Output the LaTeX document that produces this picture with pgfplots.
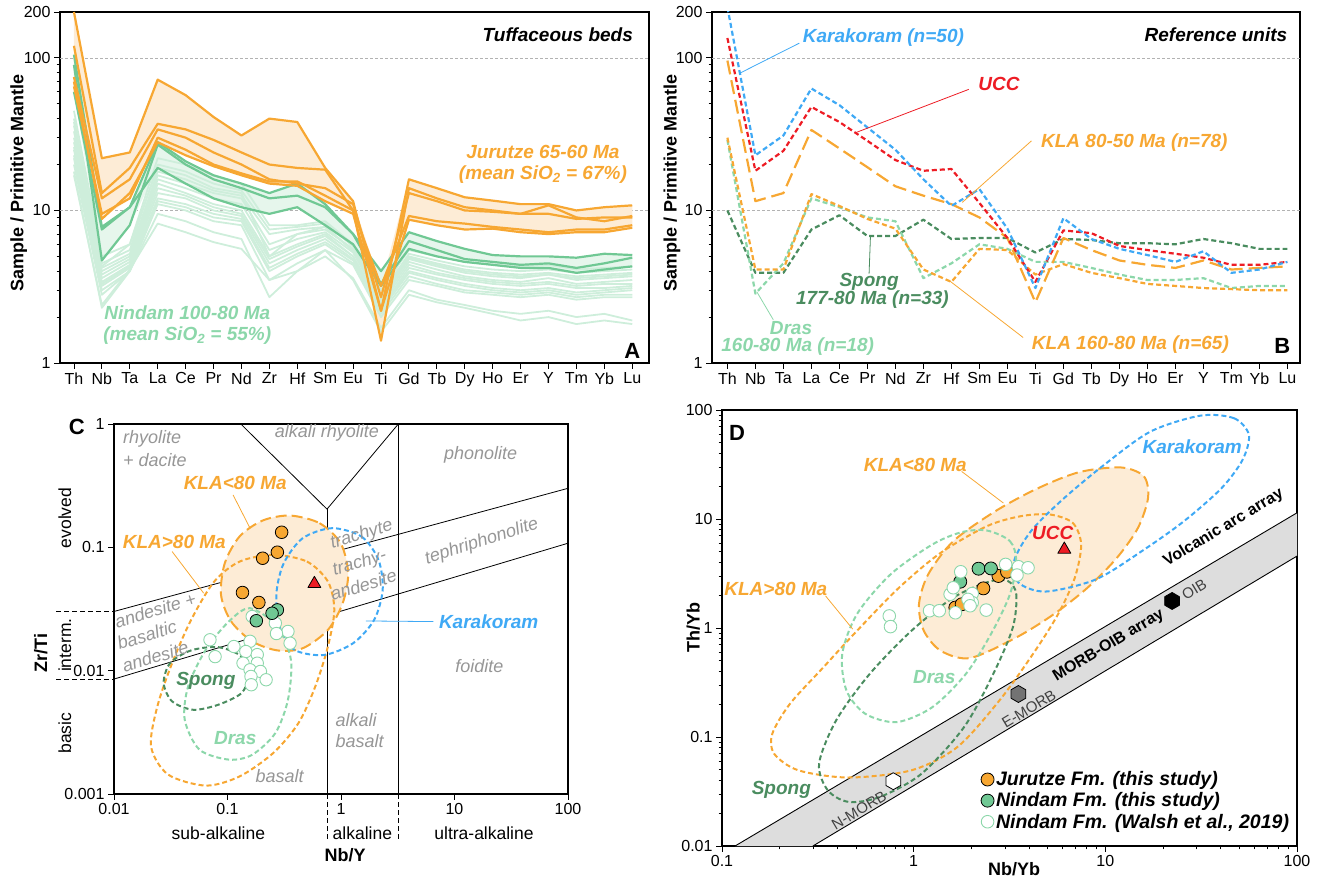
\documentclass[border=0pt]{standalone}
\usepackage{fontspec}
\setmainfont{Liberation Sans}
\usepackage{pgfplots}
\pgfplotsset{compat=1.18}
\usepackage{pgfplotstable}

\definecolor{cOr}{RGB}{247,167,50}
\definecolor{cOrF}{RGB}{253,236,214}
\definecolor{cGr}{RGB}{112,200,148}
\definecolor{cGrL}{RGB}{206,238,219}
\definecolor{cGrF}{RGB}{230,246,236}
\definecolor{cGrT}{RGB}{140,215,170}
\definecolor{cBl}{RGB}{63,169,245}
\definecolor{cRd}{RGB}{237,28,36}
\definecolor{cDG}{RGB}{74,140,95}
\definecolor{cTx}{RGB}{150,150,150}
\definecolor{cBand}{RGB}{221,221,221}

\newcommand\fT{\fontsize{16bp}{19bp}\selectfont}
\newcommand\fL{\fontsize{18bp}{21bp}\selectfont\bfseries}
\newcommand\fN{\fontsize{19bp}{21bp}\selectfont\bfseries\itshape}
\newcommand\fG{\fontsize{18bp}{21bp}\selectfont\itshape}
\newcommand\fR{\fontsize{17.5bp}{20bp}\selectfont}
\newcommand\fP{\fontsize{22bp}{24bp}\selectfont\bfseries}
\newcommand\fM{\fontsize{16bp}{19bp}\selectfont\bfseries}
\newcommand\fS{\fontsize{15bp}{18bp}\selectfont}

\pgfdeclareplotmark{hexagon}{%
  \pgfpathmoveto{\pgfpointpolar{90}{\pgfplotmarksize}}%
  \pgfpathlineto{\pgfpointpolar{150}{\pgfplotmarksize}}%
  \pgfpathlineto{\pgfpointpolar{210}{\pgfplotmarksize}}%
  \pgfpathlineto{\pgfpointpolar{270}{\pgfplotmarksize}}%
  \pgfpathlineto{\pgfpointpolar{330}{\pgfplotmarksize}}%
  \pgfpathlineto{\pgfpointpolar{30}{\pgfplotmarksize}}%
  \pgfpathclose
  \pgfusepathqfillstroke
}

\pgfplotsset{
  base/.style={scale only axis, axis line style={line width=1.1bp},
    tick style={black, line width=0.9bp}, major tick length=6bp, minor tick length=3.5bp,
    tick align=outside, tick pos=left, tick label style={font=\fT},
    /pgf/number format/assume math mode=true, label style={font=\fL},
    log ticks with fixed point, /pgf/number format/precision=3,
    every axis plot/.append style={line join=round}},
  sd/.style={dash pattern=on 5bp off 3bp, line width=2bp},
  ld/.style={dash pattern=on 11bp off 5bp, line width=2bp},
}

\pgfplotstableread{
i O1 O2 O3 O4 O5 G1 G2 G3 W1 W2 W3 W4 W5 W6 W7 W8 W9 W10 W11 W12 W13 W14
0 200 120 75 65 70 105 90 60 45 40 36 33 30 28 26 25 23 22 20 18 17 38
1 22 13 12 9.5 8.8 7.8 4.7 7.5 5.0 4.5 4.2 4.0 3.8 3.6 3.4 3.3 3.2 3.0 2.8 2.3 2.4 4.3
2 24 19 16 12 13 10.5 8 10.5 6.0 5.5 5.2 5.0 4.8 4.6 4.4 4.3 4.2 4.0 4.0 4.0 4.1 6.0
3 72 37 34 30 28 28 27 19 22 20 18 17 16 15 14 13 12 11.5 11 9.5 8.2 19
4 57 34 30 25 23 21 20 15 20 18 16 15 14 13 12.5 12 11 10.5 10 8.5 7.2 17
5 41 29 24 20 19.5 17 16 12 17 15 13.5 13 12 11 10.5 10 9.5 9 8.5 7.2 6.2 14
6 31 24 20 17.5 17 15 14 10.5 15 13.5 12.5 12 11 10 9.5 9.2 8.8 8.5 8 6.5 5.6 13
7 40 20 16 15.5 15 13 12 9.5 8.0 7.5 7.0 6.0 5.5 5.0 4.8 4.5 4.2 4.0 3.5 2.7 3.5 5.0
8 38 19 15 15.5 14.5 15 12.5 10.5 8.0 7.8 7.5 7.0 6.5 6.0 5.8 5.5 5.2 5.0 4.5 4.0 4.0 7.0
9 19 18.5 14 12.5 11.5 11 10.5 8 8.5 8.2 7.8 7.5 7.2 7.0 6.8 6.5 6.2 6.0 5.5 5.0 5.5 7.8
10 11.5 10 11 10 9.5 7 7 6 6.0 5.8 5.5 5.6 5.3 5.0 5.0 4.8 4.7 4.5 4.4 3.6 3.5 5.4
11 2.2 1.4 2.7 3.2 2.2 4 3.3 3.2 3.0 2.8 2.7 2.6 2.5 2.4 2.3 2.3 2.2 2.1 2.0 1.7 1.6 2.6
12 16 14 13 9.2 8.7 7.2 6.3 5.6 5.5 5.2 5.0 4.8 4.6 4.4 4.2 4.0 3.9 3.7 3.5 3.0 2.8 4.9
13 14 12 11.5 8.5 8 6.3 5.5 5 5.0 4.7 4.5 4.3 4.1 3.9 3.8 3.6 3.5 3.3 3.2 2.6 2.5 4.4
14 12.2 10.5 10 8.2 7.5 5.6 4.8 4.6 4.6 4.3 4.1 3.9 3.7 3.6 3.5 3.3 3.2 3.0 2.9 2.4 2.3 4.0
15 11.6 10 9.8 7.8 7.6 5.1 4.6 4.4 4.4 4.1 3.9 3.7 3.5 3.4 3.3 3.1 3.0 2.9 2.8 2.2 2.1 3.8
16 11 9.5 9.5 7.5 7.2 5 4.4 4.2 4.3 4.0 3.8 3.6 3.4 3.3 3.2 3.0 2.9 2.8 2.7 2.1 1.9 3.7
17 11 10.8 9.5 7.2 7 5 4.5 4.2 4.4 4.1 3.9 3.8 3.6 3.4 3.3 3.1 3.0 2.9 2.8 2.2 2.0 3.8
18 10 9 8.8 7.5 7.2 4.9 4.2 3.9 4.1 3.9 3.7 3.5 3.3 3.2 3.1 2.9 2.8 2.7 2.6 2.0 1.8 3.6
19 10.5 8.5 9 7.5 7.2 5.2 4.5 4.1 4.2 4.0 3.8 3.6 3.4 3.3 3.1 3.0 2.9 2.8 2.7 2.1 1.9 3.7
20 10.8 9.2 9 8 7.7 5.1 4.9 4.3 4.3 4.1 3.9 3.7 3.5 3.3 3.2 3.1 3.0 2.8 2.7 1.9 1.8 3.8
}\tabA

\pgfplotstableread{
i K U L1 L2 D S
0 215 135 96 30 29 10
1 23 18.2 11.5 4.1 2.85 3.9
2 31 24.6 13 4.1 4.5 3.9
3 63 47.7 33.7 12.8 12 7.5
4 49 38 25.5 10.7 10.5 9.3
5 35 28.6 19.2 8.8 9 6.8
6 25 21.4 14.4 7.6 8.5 6.8
7 16 18.2 12.5 4.1 3.6 8.7
8 10.7 18.7 11 3.4 4.5 6.5
9 13.8 11.2 9 5.6 6 6.6
10 7.6 6.6 6.6 5.5 5.6 6.6
11 3.1 3.4 2.5 3.8 4.6 5.3
12 8.9 7.4 6.6 4.45 4.6 6.5
13 6.5 7.1 5.5 3.9 4.2 6.4
14 5.6 5.85 4.7 3.6 3.8 6.1
15 5.1 5.5 4.4 3.3 3.5 6.1
16 4.6 5.2 4.2 3.2 3.5 6.0
17 5.4 4.9 4.7 3.1 3.6 6.5
18 3.9 4.4 4.1 3.05 3.1 6.1
19 4.1 4.4 4.2 3.0 3.2 5.6
20 4.6 4.6 4.3 3.0 3.2 5.6
}\tabB

\begin{document}
\begin{tikzpicture}
\useasboundingbox (0,0) rectangle (1318bp,879bp);

%%%%%%%%%%%%%%%%%%%% A
\begin{axis}[base, at={(60bp,516bp)}, anchor=south west, width=589bp, height=351bp,
  ymode=log, ymin=1, ymax=200, xmin=-0.5, xmax=20.6,
  xtick={0,...,20}, xticklabels={Th,Nb,Ta,La,Ce,Pr,Nd,Zr,Hf,Sm,Eu,Ti,Gd,Tb,Dy,Ho,Er,Y,Tm,Yb,Lu},
  extra y ticks={200}, extra y tick labels={200},
  ylabel={Sample / Primitive Mantle}, ylabel style={at={(axis description cs:-0.07,0.513)}, anchor=center}]
\addplot[gray!60, dash pattern=on 3bp off 2bp, line width=0.6bp, forget plot] coordinates {(-0.5,10) (20.6,10)};
\addplot[gray!60, dash pattern=on 3bp off 2bp, line width=0.6bp, forget plot] coordinates {(-0.5,100) (20.6,100)};
\addplot[fill=cOrF, draw=none, forget plot] coordinates {(0,200) (1,22) (2,24) (3,72) (4,57) (5,41) (6,31) (7,40) (8,38) (9,19) (10,11.5) (11,3.2) (12,16) (13,14) (14,12.2) (15,11.6) (16,11) (17,11) (18,10) (19,10.5) (20,10.8) (20,7.7) (19,7.2) (18,7.2) (17,7) (16,7.2) (15,7.6) (14,7.5) (13,8) (12,8.7) (11,1.4) (10,9.5) (9,11.5) (8,14.5) (7,15) (6,17) (5,19.5) (4,23) (3,28) (2,12) (1,8.8) (0,65)} -- cycle;
\addplot[fill=cGrF, draw=none, forget plot] coordinates {(0,105) (1,7.8) (2,10.5) (3,28) (4,21) (5,17) (6,15) (7,13) (8,15) (9,11) (10,7) (11,4) (12,7.2) (13,6.3) (14,5.6) (15,5.1) (16,5) (17,5) (18,4.9) (19,5.2) (20,5.1) (20,4.3) (19,4.1) (18,3.9) (17,4.2) (16,4.2) (15,4.4) (14,4.6) (13,5) (12,5.6) (11,3.2) (10,6) (9,8) (8,10.5) (7,9.5) (6,10.5) (5,12) (4,15) (3,19) (2,8) (1,4.7) (0,60)} -- cycle;
\pgfplotsinvokeforeach{1,...,14}{\addplot[cGrL, line width=1.8bp, forget plot] table[x=i,y=W#1]{\tabA};}
\addplot[cGr, line width=2.2bp] table[x=i,y=G1]{\tabA};
\addplot[cGr, line width=2.2bp] table[x=i,y=G2]{\tabA};
\addplot[cGr, line width=2.2bp] table[x=i,y=G3]{\tabA};
\addplot[cOr, line width=2.2bp] table[x=i,y=O1]{\tabA};
\addplot[cOr, line width=2.2bp] table[x=i,y=O2]{\tabA};
\addplot[cOr, line width=2.2bp] table[x=i,y=O3]{\tabA};
\addplot[cOr, line width=2.2bp] table[x=i,y=O4]{\tabA};
\addplot[cOr, line width=2.2bp] table[x=i,y=O5]{\tabA};
\node[font=\fN, anchor=east] at (axis cs:20.15,142) {Tuffaceous beds};
\node[font=\fN, text=cOr, align=center] at (axis cs:16.8,20.1) {Jurutze 65-60 Ma\\(mean SiO\textsubscript{2} = 67\%)};
\node[font=\fN, text=cGrT, align=center] at (axis cs:4.06,1.77) {Nindam 100-80 Ma\\(mean SiO\textsubscript{2} = 55\%)};
\node[font=\fP] at (axis cs:20.0,1.2) {A};
\end{axis}

%%%%%%%%%%%%%%%%%%%% B
\begin{axis}[base, at={(712bp,516bp)}, anchor=south west, width=588bp, height=351bp,
  ymode=log, ymin=1, ymax=200, xmin=-0.55, xmax=20.45,
  xtick={0,...,20}, xticklabels={Th,Nb,Ta,La,Ce,Pr,Nd,Zr,Hf,Sm,Eu,Ti,Gd,Tb,Dy,Ho,Er,Y,Tm,Yb,Lu},
  extra y ticks={200}, extra y tick labels={200},
  ylabel={Sample / Primitive Mantle}, ylabel style={at={(axis description cs:-0.068,0.513)}, anchor=center}]
\addplot[gray!60, dash pattern=on 3bp off 2bp, line width=0.6bp, forget plot] coordinates {(-0.55,10) (20.45,10)};
\addplot[gray!60, dash pattern=on 3bp off 2bp, line width=0.6bp, forget plot] coordinates {(-0.55,100) (20.45,100)};
\addplot[cDG, sd, line width=2.2bp] table[x=i,y=S]{\tabB};
\addplot[cGrT, sd, line width=2.2bp] table[x=i,y=D]{\tabB};
\addplot[cOr, sd, line width=2.2bp] table[x=i,y=L2]{\tabB};
\addplot[cOr, dash pattern=on 14bp off 6bp, line width=2.2bp] table[x=i,y=L1]{\tabB};
\addplot[cRd, sd, line width=2.2bp] table[x=i,y=U]{\tabB};
\addplot[cBl, sd, line width=2.2bp] table[x=i,y=K]{\tabB};
\addplot[cBl, line width=0.8bp] coordinates {(2.57,125) (0.48,80)};
\addplot[cRd, line width=0.8bp] coordinates {(8.62,62.2) (4.59,32.4)};
\addplot[cOr, line width=0.8bp] coordinates {(10.86,28.6) (8.39,11.3)};
\addplot[cDG, line width=0.8bp] coordinates {(5.06,3.86) (5.11,6.8)};
\addplot[cGrT, line width=0.8bp] coordinates {(1.64,1.92) (1.05,2.93)};
\addplot[cOr, line width=0.8bp] coordinates {(10.56,1.47) (7.95,3.44)};
\node[font=\fN, anchor=east] at (axis cs:20.12,142) {Reference units};
\node[font=\fN, text=cBl, anchor=west] at (axis cs:2.57,135) {Karakoram (n=50)};
\node[font=\fN, text=cRd, anchor=west] at (axis cs:8.84,67) {UCC};
\node[font=\fN, text=cOr, anchor=west] at (axis cs:11.08,27.9) {KLA 80-50 Ma (n=78)};
\node[font=\fN, text=cDG] at (axis cs:5.06,3.41) {Spong};
\node[font=\fN, text=cDG] at (axis cs:5.18,2.59) {177-80 Ma (n=33)};
\node[font=\fN, text=cGrT] at (axis cs:2.27,1.69) {Dras};
\node[font=\fN, text=cGrT] at (axis cs:2.51,1.28) {160-80 Ma (n=18)};
\node[font=\fN, text=cOr, anchor=west] at (axis cs:10.75,1.32) {KLA 160-80 Ma (n=65)};
\node[font=\fP] at (axis cs:19.82,1.3) {B};
\end{axis}

%%%%%%%%%%%%%%%%%%%% C
\begin{axis}[base, at={(114bp,85bp)}, anchor=south west, width=454bp, height=370bp,
  xmode=log, ymode=log, xmin=0.01, xmax=100, ymin=0.001, ymax=1,
  minor tick length=0pt, clip=false,
  xlabel={Nb/Y}, xlabel style={at={(axis description cs:0.509,-0.165)}, anchor=center},
  ylabel={Zr/Ti}, ylabel style={at={(axis description cs:-0.161,0.381)}, anchor=center}]
\addplot[black, line width=0.8bp] coordinates {(0.131,1) (0.753,0.204) (3.2,1)};
\addplot[black, line width=0.8bp] coordinates {(0.753,0.204) (0.753,0.001)};
\addplot[black, line width=0.8bp] coordinates {(3.2,1) (3.2,0.001)};
\addplot[black, line width=0.8bp] coordinates {(0.01,0.0302) (100,0.301)};
\addplot[black, line width=0.8bp] coordinates {(0.01,0.00855) (100,0.108)};
\addplot[black, line width=0.8bp, dash pattern=on 5bp off 3bp] coordinates {(0.0031,0.0302) (0.01,0.0302)};
\addplot[black, line width=0.8bp, dash pattern=on 5bp off 3bp] coordinates {(0.0031,0.00855) (0.01,0.00855)};
\addplot[black, line width=0.8bp, dash pattern=on 5bp off 3bp] coordinates {(0.753,0.001) (0.753,0.00041)};
\addplot[black, line width=0.8bp, dash pattern=on 5bp off 3bp] coordinates {(3.2,0.001) (3.2,0.00041)};
\addplot[cOr, ld, fill=cOrF, smooth cycle] coordinates {(0.356,0.181) (0.647,0.157) (0.993,0.108) (1.157,0.0617) (1.035,0.0353) (0.767,0.0214) (0.460,0.0152) (0.275,0.0146) (0.165,0.0173) (0.1076,0.0251) (0.0877,0.0412) (0.0946,0.0743) (0.1276,0.1223) (0.204,0.165)};
\addplot[cOr, sd, smooth cycle] coordinates {(0.253,0.0869) (0.501,0.0767) (0.767,0.0528) (0.873,0.0311) (0.767,0.0157) (0.594,0.00745) (0.422,0.00376) (0.253,0.00215) (0.128,0.00139) (0.0644,0.00117) (0.0299,0.00144) (0.0212,0.00243) (0.0241,0.00513) (0.0325,0.0115) (0.0478,0.0258) (0.0764,0.0528) (0.128,0.0767)};
\addplot[cBl, sd, smooth cycle] coordinates {(0.835,0.143) (1.52,0.122) (2.14,0.0791) (2.33,0.0452) (1.96,0.0258) (1.28,0.0167) (0.705,0.0134) (0.387,0.0148) (0.287,0.0228) (0.270,0.0425) (0.313,0.0743) (0.460,0.1186)};
\addplot[cDG, sd, smooth cycle] coordinates {(0.0832,0.0155) (0.133,0.0130) (0.151,0.00898) (0.133,0.00658) (0.0832,0.0053) (0.0499,0.00482) (0.0325,0.00564) (0.0274,0.00793) (0.0312,0.0115) (0.0478,0.0146)};
\addplot[cGrT, sd, smooth cycle] coordinates {(0.158,0.0321) (0.275,0.0228) (0.362,0.01225) (0.341,0.00581) (0.264,0.00312) (0.165,0.00208) (0.103,0.0019) (0.0566,0.00229) (0.042,0.004) (0.045,0.00745) (0.0644,0.0148) (0.103,0.0251)};
\addplot[cOr, line width=0.8bp] coordinates {(0.112,0.266) (0.158,0.143)};
\addplot[cOr, line width=0.8bp] coordinates {(0.0325,0.0925) (0.0617,0.0425)};
\addplot[cBl, line width=0.8bp] coordinates {(6.5,0.025) (1.66,0.0253)};
\addplot[only marks, mark=*, mark size=6.2bp, mark options={fill=white, draw=cGrT, line width=0.9bp}] coordinates {(0.165,0.0275) (0.264,0.0243) (0.341,0.0208) (0.356,0.0167) (0.0701,0.0178) (0.0778,0.0130) (0.114,0.0157) (0.158,0.0173) (0.145,0.0143) (0.183,0.0135) (0.137,0.0115) (0.183,0.0115) (0.158,0.01017) (0.195,0.00986) (0.161,0.00898) (0.219,0.00844) (0.162,0.00769) (0.27,0.02)};
\addplot[only marks, mark=*, mark size=6.3bp, mark options={fill=cGr, draw=black, line width=0.8bp}] coordinates {(0.275,0.0311) (0.247,0.0292) (0.1795,0.0254)};
\addplot[only marks, mark=*, mark size=6.3bp, mark options={fill=cOr, draw=black, line width=0.8bp}] coordinates {(0.300,0.1325) (0.275,0.0913) (0.204,0.0816) (0.1355,0.0430) (0.189,0.0357)};
\addplot[only marks, mark=triangle*, mark size=7.5bp, mark options={fill=cRd, draw=black, line width=0.8bp}] coordinates {(0.583,0.0506)};
\node[font=\fG, text=cTx, anchor=west] at (axis cs:0.0112,0.765) {rhyolite};
\node[font=\fG, text=cTx, anchor=west] at (axis cs:0.0112,0.51) {+ dacite};
\node[font=\fG, text=cTx] at (axis cs:0.753,0.84) {alkali rhyolite};
\node[font=\fG, text=cTx] at (axis cs:17,0.56) {phonolite};
\node[font=\fG, text=cTx, rotate=17] at (axis cs:1.52,0.126) {trachyte};
\node[font=\fG, text=cTx, rotate=17] at (axis cs:1.46,0.074) {trachy-};
\node[font=\fG, text=cTx, rotate=17] at (axis cs:1.58,0.0497) {andesite};
\node[font=\fG, text=cTx, rotate=18] at (axis cs:17.4,0.111) {tephriphonolite};
\node[font=\fG, text=cTx, rotate=17] at (axis cs:0.0231,0.031) {andesite +};
\node[font=\fG, text=cTx, rotate=17] at (axis cs:0.0195,0.0195) {basaltic};
\node[font=\fG, text=cTx, rotate=17] at (axis cs:0.0231,0.013) {andesite};
\node[font=\fG, text=cTx] at (axis cs:16.6,0.0108) {foidite};
\node[font=\fG, text=cTx, anchor=west] at (axis cs:0.835,0.004) {alkali};
\node[font=\fG, text=cTx, anchor=west] at (axis cs:0.835,0.00267) {basalt};
\node[font=\fG, text=cTx] at (axis cs:0.288,0.00139) {basalt};
\node[font=\fN, text=cOr] at (axis cs:0.117,0.335) {KLA<80 Ma};
\node[font=\fN, text=cOr] at (axis cs:0.034,0.111) {KLA>80 Ma};
\node[font=\fN, text=cBl] at (axis cs:20,0.025) {Karakoram};
\node[font=\fN, text=cDG] at (axis cs:0.0644,0.0082) {Spong};
\node[font=\fN, text=cGrT] at (axis cs:0.117,0.00284) {Dras};
\node[font=\fP] at (axis cs:0.0047,0.946) {C};
\node[font=\fR, rotate=90] at (axis cs:0.0037,0.173) {evolved};
\node[font=\fR, rotate=90] at (axis cs:0.0037,0.0161) {interm.};
\node[font=\fR, rotate=90] at (axis cs:0.0037,0.00312) {basic};
\node[font=\fR] at (axis description cs:0.23,-0.105) {sub-alkaline};
\node[font=\fR] at (axis description cs:0.547,-0.105) {alkaline};
\node[font=\fR] at (axis description cs:0.815,-0.105) {ultra-alkaline};
\end{axis}

%%%%%%%%%%%%%%%%%%%% D
\begin{axis}[base, at={(722bp,33bp)}, anchor=south west, width=575bp, height=436bp,
  xmode=log, ymode=log, xmin=0.1, xmax=100, ymin=0.01, ymax=100, clip=false,
  xlabel={Nb/Yb}, xlabel style={at={(axis description cs:0.508,-0.052)}, anchor=center},
  ylabel={Th/Yb}, ylabel style={at={(axis description cs:-0.05,0.502)}, anchor=center},
  legend style={draw=none, fill=none, font=\fontsize{19.5bp}{22bp}\selectfont\bfseries\itshape,
    at={(0.445,0.18)}, anchor=north west, row sep=1.5bp},
  legend cell align=left]
\addplot[fill=cBand, draw=none, forget plot] coordinates {(0.117,0.01) (100,11.4) (100,4.57) (0.298,0.01)} -- cycle;
\addplot[black, line width=0.9bp, forget plot] coordinates {(0.117,0.01) (100,11.4)};
\addplot[black, line width=0.9bp, forget plot] coordinates {(0.298,0.01) (100,4.57)};
\addplot[cOr, ld, fill=cOrF, smooth cycle, forget plot] coordinates {(12.08,29.7) (15.9,24.6) (16.7,15.6) (14.8,8.29) (11.5,4.41) (8.07,2.34) (5.39,1.34) (3.43,0.818) (1.97,0.530) (1.385,0.618) (1.13,0.942) (1.066,1.65) (1.19,3.10) (1.61,6.26) (2.67,11.8) (4.41,19.0) (7.30,26.9)};
\addplot[cOr, sd, smooth cycle, forget plot] coordinates {(5.13,11.0) (6.76,9.21) (7.48,5.83) (6.93,2.89) (5.67,1.34) (4.19,0.577) (2.80,0.216) (1.69,0.0809) (0.973,0.0495) (0.457,0.0425) (0.250,0.0495) (0.187,0.0703) (0.183,0.107) (0.226,0.201) (0.338,0.436) (0.506,0.942) (0.838,2.34) (1.385,4.90) (2.41,8.59) (3.61,10.6)};
\addplot[cBl, sd, smooth cycle, forget plot] coordinates {(31.4,88.8) (47.0,83.9) (56.1,59.1) (52.0,34.9) (40.4,19.2) (25.7,9.54) (15.5,5.07) (8.92,2.79) (4.88,2.16) (3.52,2.61) (3.34,4.11) (4.09,7.73) (5.96,15.0) (9.86,31.4) (17.2,63.4)};
\addplot[cGrT, sd, smooth cycle, forget plot] coordinates {(2.41,7.84) (3.18,6.26) (3.43,4.11) (3.18,2.04) (2.53,0.879) (1.87,0.378) (1.25,0.1875) (0.817,0.137) (0.560,0.163) (0.446,0.267) (0.424,0.577) (0.506,1.34) (0.757,3.10) (1.25,5.83) (1.78,7.57)};
\addplot[cDG, sd, smooth cycle, forget plot] coordinates {(3.10,2.70) (3.43,2.04) (3.29,1.01) (2.60,0.378) (1.83,0.123) (1.10,0.0461) (0.667,0.0282) (0.457,0.0254) (0.356,0.0325) (0.321,0.0570) (0.394,0.142) (0.589,0.378) (0.973,0.942) (1.61,1.90) (2.47,2.66)};
\addplot[cOr, line width=0.8bp, forget plot] coordinates {(1.78,27.3) (2.94,14.0)};
\addplot[cOr, line width=0.8bp, forget plot] coordinates {(0.347,1.97) (0.481,0.976)};
\addplot[only marks, mark=hexagon, mark size=8.5bp, mark options={fill=white, draw=black, line width=0.8bp}, forget plot] coordinates {(0.783,0.0393)};
\addplot[only marks, mark=hexagon, mark size=8.5bp, mark options={fill=black!55, draw=black, line width=0.8bp}, forget plot] coordinates {(3.52,0.248)};
\addplot[only marks, mark=hexagon, mark size=8.5bp, mark options={fill=black, draw=black, line width=0.8bp}, forget plot] coordinates {(22.3,1.77)};
\addplot[only marks, mark=triangle*, mark size=7.5bp, mark options={fill=cRd, draw=black, line width=0.8bp}, forget plot] coordinates {(6.11,5.25)};
\addplot[only marks, mark=*, mark size=6.5bp, mark options={fill=cOr, draw=black, line width=0.8bp}] coordinates {(1.65,1.54) (1.78,1.65) (2.31,2.31) (2.77,3.00) (3.07,3.28)};
\addlegendentry{Jurutze Fm. (this study)}
\addplot[only marks, mark=*, mark size=6.5bp, mark options={fill=cGr, draw=black, line width=0.8bp}] coordinates {(1.75,2.66) (2.18,3.50) (2.53,3.52)};
\addlegendentry{Nindam Fm. (this study)}
\addplot[only marks, mark=*, mark size=6.3bp, mark options={fill=white, draw=cGrT, line width=0.9bp}] coordinates {(0.746,1.29) (0.757,1.03) (1.21,1.44) (1.36,1.44) (1.55,2.04) (1.76,3.28) (2.02,2.07) (2.02,1.71) (2.39,1.46) (3.02,3.83) (3.52,3.65) (3.95,3.57) (3.46,3.06) (1.61,2.34) (1.92,1.83) (1.65,1.38) (1.97,1.60)};
\addlegendentry{Nindam Fm. (Walsh et al., 2019)}
\node[font=\fP] at (axis cs:0.12,61) {D};
\node[font=\fN, text=cOr] at (axis cs:1.02,31.4) {KLA<80 Ma};
\node[font=\fN, text=cOr] at (axis cs:0.191,2.26) {KLA>80 Ma};
\node[font=\fN, text=cBl] at (axis cs:28.4,46.2) {Karakoram};
\node[font=\fN, text=cRd] at (axis cs:5.31,7.46) {UCC};
\node[font=\fN, text=cGrT] at (axis cs:1.28,0.353) {Dras};
\node[font=\fN, text=cDG] at (axis cs:0.204,0.0325) {Spong};
\node[font=\fM, rotate=31] at (axis cs:41.4,8.29) {Volcanic arc array};
\node[font=\fM, rotate=31] at (axis cs:10.4,0.687) {MORB-OIB array};
\node[font=\fS, text=black!75, rotate=31] at (axis cs:29.1,2.26) {OIB};
\node[font=\fS, text=black!75, rotate=31] at (axis cs:3.99,0.181) {E-MORB};
\node[font=\fS, text=black!75, rotate=31] at (axis cs:0.519,0.0213) {N-MORB};
\end{axis}
\end{tikzpicture}
\end{document}
